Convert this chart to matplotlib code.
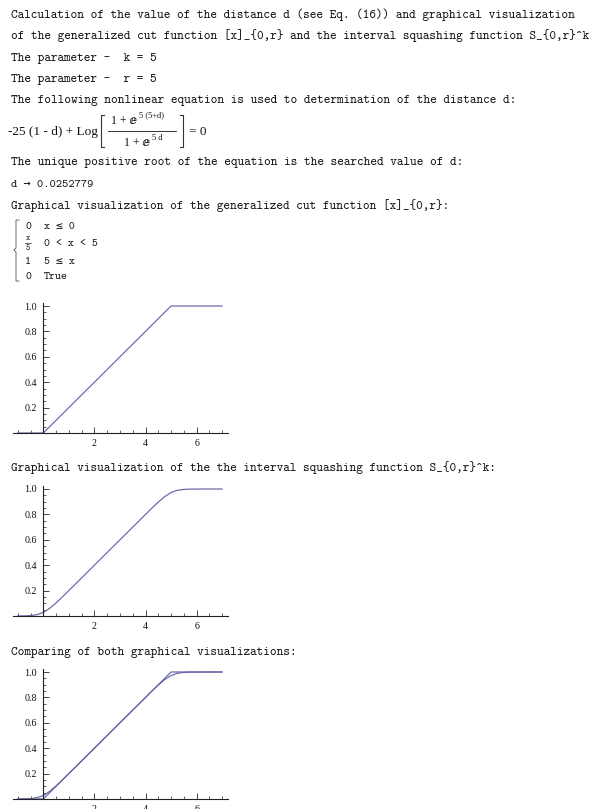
import matplotlib
matplotlib.use("Agg")
import matplotlib.pyplot as plt
from matplotlib.lines import Line2D
from matplotlib.ticker import FixedLocator
import numpy as np

W, H = 597, 809

# values
cut_x = [-1.0, 0.0, 5.0, 7.0]
cut_y = [0.0, 0.0, 1.0, 1.0]

sq_x = [-1.0, -0.75, -0.5, -0.25, 0.0, 0.25, 0.5, 0.75, 1.0, 1.25, 1.5, 2.0,
        3.0, 3.5, 3.75, 4.0, 4.25, 4.5, 4.75, 5.0, 5.25, 5.5, 5.75, 6.0, 6.5, 7.0]
sq_y = [0.0003, 0.0009, 0.0032, 0.0101, 0.0277, 0.0601, 0.1032, 0.1509, 0.2003,
        0.2501, 0.3000, 0.4000, 0.6000, 0.7000, 0.7499, 0.7997, 0.8491, 0.8968,
        0.9399, 0.9723, 0.9899, 0.9968, 0.9991, 0.9997, 1.0, 1.0]

y_ticks = [0.2, 0.4, 0.6, 0.8, 1.0]
y_tick_labels = ["0.2", "0.4", "0.6", "0.8", "1.0"]
x_ticks = [2, 4, 6]
x_tick_labels = ["2", "4", "6"]

MONO = ['cmtt10', 'DejaVu Sans Mono', 'DejaVu Sans']
SERIF = ['Liberation Serif', 'DejaVu Serif', 'DejaVu Sans']
LINE_COLOR = '#6464a6'
TEXT_COLOR = '#111111'

fig = plt.figure(figsize=(W / 100, H / 100), dpi=100)
fig.patch.set_facecolor('white')


def fx(px):
    return px / W


def fy(py):
    return 1 - py / H


def txt(x, y, s, size=9.1, family=MONO, ha='left'):
    # y is the visual centre of the line in pixels
    base = y + 0.3 * size * 100 / 72
    fig.text(fx(x), fy(base), s, fontsize=size, family=family,
             color=TEXT_COLOR, va='baseline', ha=ha)


def seg(xs, ys, lw=0.7, color='#333333'):
    fig.add_artist(Line2D([fx(v) for v in xs], [fy(v) for v in ys], lw=lw,
                          color=color, transform=fig.transFigure))


# text cells
txt(11, 14, "Calculation of the value of the distance d (see Eq. (16)) and graphical visualization")
txt(11, 35, "of the generalized cut function [x]_{0,r} and the interval squashing function S_{0,r}^k")
txt(11, 57, "The parameter -  k = 5")
txt(11, 78, "The parameter -  r = 5")
txt(11, 99, "The following nonlinear equation is used to determination of the distance d:")

# equation
txt(8, 131, "-25 (1 - d) + Log", size=9.5, family=SERIF)
seg([104, 101, 101, 104], [115, 115, 147, 147], lw=0.8)
txt(111, 120, "1 + \u2147", size=8.5, family=SERIF)
txt(139, 115, "5 (5+d)", size=6, family=SERIF)
seg([108, 176], [131, 131], lw=0.7)
txt(124, 142, "1 + \u2147", size=8.5, family=SERIF)
txt(152, 138, "5 d", size=6, family=SERIF)
seg([180, 183, 183, 180], [115, 115, 147, 147], lw=0.8)
txt(189, 131, "= 0", size=9.5, family=SERIF)

txt(11, 161, "The unique positive root of the equation is the searched value of d:")
txt(11, 183, "d \u2192 0.0252779", size=8.6)
txt(11, 205, "Graphical visualization of the generalized cut function [x]_{0,r}:")

# piecewise definition
seg([19, 16, 16, 14, 16, 16, 19], [220, 220, 248, 250, 252, 281, 281], lw=0.6, color='#555555')
txt(25, 226, "0", size=8.2)
txt(44, 226, "x \u2264 0", size=8.2)
txt(26, 238, "x", size=6)
seg([25, 31], [243, 243], lw=0.5)
txt(26, 248, "5", size=6)
txt(44, 243, "0 < x < 5", size=8.2)
txt(25, 261, "1", size=8.2)
txt(44, 261, "5 \u2264 x", size=8.2)
txt(25, 276, "0", size=8.2)
txt(44, 276, "True", size=8.2)

txt(11, 467, "Graphical visualization of the the interval squashing function S_{0,r}^k:")
txt(11, 651, "Comparing of both graphical visualizations:")

# small plots
X0_PX, PX_X = 43.3, 25.55
PX_Y = 127
XMIN, XMAX = -1.18, 7.22
YMAX = 1.02


def small_plot(axis_px, curves):
    left = X0_PX + XMIN * PX_X
    width = (XMAX - XMIN) * PX_X
    height = YMAX * PX_Y
    ax = fig.add_axes([fx(left), 1 - axis_px / H, width / W, height / H])
    for xs, ys in curves:
        ax.plot(xs, ys, color=LINE_COLOR, lw=0.85, clip_on=False)
    ax.set_xlim(XMIN, XMAX)
    ax.set_ylim(0, YMAX)
    ax.patch.set_alpha(0)
    ax.spines['top'].set_visible(False)
    ax.spines['right'].set_visible(False)
    ax.spines['left'].set_position(('data', 0))
    for s in ('left', 'bottom'):
        ax.spines[s].set_color('#222222')
        ax.spines[s].set_linewidth(0.8)
    ax.xaxis.set_major_locator(FixedLocator(x_ticks))
    ax.set_xticklabels(x_tick_labels)
    ax.yaxis.set_major_locator(FixedLocator(y_ticks))
    ax.set_yticklabels(y_tick_labels)
    minor_x = [v for v in np.arange(-1.0, 7.01, 0.5) if v not in x_ticks and v != 0]
    minor_y = [round(v, 2) for v in np.arange(0.05, 1.001, 0.05)
               if round(v, 2) not in y_ticks]
    ax.xaxis.set_minor_locator(FixedLocator(minor_x))
    ax.yaxis.set_minor_locator(FixedLocator(minor_y))
    ax.tick_params(which='major', direction='in', length=4, width=0.6,
                   color='#222222', labelsize=7.2, pad=4.5)
    ax.tick_params(which='minor', direction='in', length=2, width=0.5,
                   color='#222222')
    for lab in ax.get_xticklabels() + ax.get_yticklabels():
        lab.set_family(SERIF)
        lab.set_color(TEXT_COLOR)
    return ax


small_plot(433, [(cut_x, cut_y)])
small_plot(616, [(sq_x, sq_y)])
small_plot(799, [(cut_x, cut_y), (sq_x, sq_y)])

fig.savefig("out.png", dpi=100, facecolor='white')
